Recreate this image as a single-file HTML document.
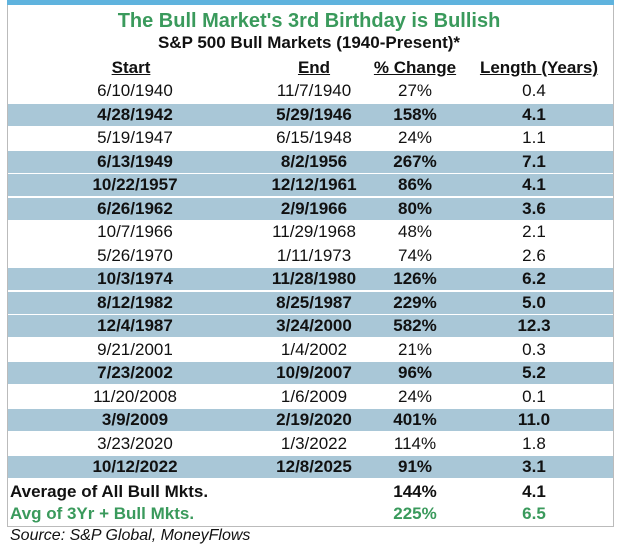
<!DOCTYPE html>
<html><head><meta charset="utf-8"><style>
body{margin:0;width:624px;height:547px;background:#fff;position:relative;overflow:hidden;font-family:"Liberation Sans",Arial,sans-serif;color:#111}
.bar{position:absolute;left:7px;top:0;width:607px;height:5px;background:#5fb3de}
.box{position:absolute;left:7px;top:5px;width:605px;height:521px;border:1px solid #bbb;border-top:none}
.t{position:absolute;white-space:nowrap;font-size:17px;line-height:20px;transform:translateX(-50%)}
.row{position:absolute;left:8px;width:605px;height:22px}
.sh{background:#a9c7d7}
.b{font-weight:bold}
.u{text-decoration:underline;font-weight:bold}
.g{color:#3a9a5c}
</style></head><body>
<div class="bar"></div><div class="box"></div>
<div class="t b g" style="left:309px;top:9px;font-size:20px;line-height:24px">The Bull Market's 3rd Birthday is Bullish</div>
<div class="t b" style="left:309px;top:33px;font-size:17px">S&amp;P 500 Bull Markets (1940-Present)*</div>
<div class="t u" style="left:131px;top:58px">Start</div>
<div class="t u" style="left:314px;top:58px">End</div>
<div class="t u" style="left:415px;top:58px">% Change</div>
<div class="t u" style="left:539px;top:58px">Length (Years)</div>
<div id="rows"></div>
<script>
var d=[["6/10/1940","11/7/1940","27%","0.4"],["4/28/1942","5/29/1946","158%","4.1"],["5/19/1947","6/15/1948","24%","1.1"],["6/13/1949","8/2/1956","267%","7.1"],["10/22/1957","12/12/1961","86%","4.1"],["6/26/1962","2/9/1966","80%","3.6"],["10/7/1966","11/29/1968","48%","2.1"],["5/26/1970","1/11/1973","74%","2.6"],["10/3/1974","11/28/1980","126%","6.2"],["8/12/1982","8/25/1987","229%","5.0"],["12/4/1987","3/24/2000","582%","12.3"],["9/21/2001","1/4/2002","21%","0.3"],["7/23/2002","10/9/2007","96%","5.2"],["11/20/2008","1/6/2009","24%","0.1"],["3/9/2009","2/19/2020","401%","11.0"],["3/23/2020","1/3/2022","114%","1.8"],["10/12/2022","12/8/2025","91%","3.1"]];
var sh=[1,3,4,5,8,9,10,12,14,16];var h="";
d.forEach(function(r,i){var c=91+i*23.5;var s=sh.indexOf(i)>=0;
if(s)h+='<div class="row sh" style="top:'+(c-11)+'px"></div>';
var cl='t'+(s?' b':'');var x=[135,314,415,534];
for(var j=0;j<4;j++)h+='<div class="'+cl+'" style="left:'+x[j]+'px;top:'+(c-10)+'px">'+r[j]+'</div>';});
document.getElementById('rows').innerHTML=h;
</script>
<div class="t b" style="left:10px;transform:none;top:482px">Average of All Bull Mkts.</div>
<div class="t b" style="left:415px;top:482px">144%</div>
<div class="t b" style="left:534px;top:482px">4.1</div>
<div class="t b g" style="left:10px;transform:none;top:504px">Avg of 3Yr + Bull Mkts.</div>
<div class="t b g" style="left:415px;top:504px">225%</div>
<div class="t b g" style="left:534px;top:504px">6.5</div>
<div class="t" style="left:10px;transform:none;top:526px;font-style:italic;font-size:16px">Source: S&amp;P Global, MoneyFlows</div>
</body></html>
